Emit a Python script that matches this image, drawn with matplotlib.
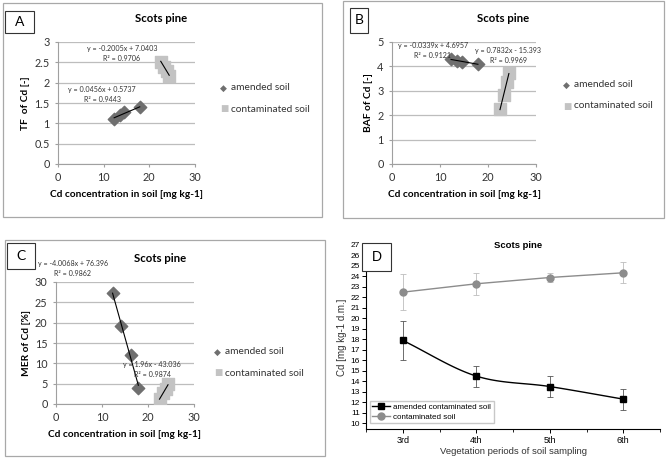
import matplotlib
matplotlib.use("Agg")
import matplotlib.pyplot as plt
import numpy as np
from matplotlib.patches import Rectangle

W, H = 666, 459

# soil Cd per vegetation period (panel D)
periods = ["3rd", "4th", "5th", "6th"]
cd_amended = [17.9, 14.5, 13.5, 12.3]
cd_amended_err = [1.85, 1.0, 1.0, 1.0]
cd_contam = [22.5, 23.3, 23.9, 24.35]
cd_contam_err = [1.7, 1.05, 0.4, 1.0]

# panel A: TF
tf_amended = [1.39, 1.28, 1.2, 1.11]
tf_contam = [2.52, 2.38, 2.28, 2.17]
# panel B: BAF
baf_amended = [4.09, 4.2, 4.24, 4.29]
baf_contam = [2.25, 2.83, 3.35, 3.72]
# panel C: MER (x read separately)
mer_x_amended = [17.9, 16.3, 14.2, 12.3]
mer_amended = [4.0, 12.1, 19.2, 27.2]
mer_contam = [1.3, 2.6, 3.7, 4.9]

eq_A = ["y = 0.0456x + 0.5737\nR² = 0.9443", "y = -0.2005x + 7.0403\nR² = 0.9706"]
eq_B = ["y = -0.0339x + 4.6957\nR² = 0.9121", "y = 0.7832x - 15.393\nR² = 0.9969"]
eq_C = ["y = -4.0068x + 76.396\nR² = 0.9862", "y = 1.96x - 43.036\nR² = 0.9874"]

C_AM = "#6f6f6f"
C_CO = "#c3c3c3"
FONT = "Lato"


def box(x0, y0, x1, y1):
    return [x0 / W, 1 - y1 / H, (x1 - x0) / W, (y1 - y0) / H]


def fxy(x, y):
    return x / W, 1 - y / H


fig = plt.figure(figsize=(W / 100, H / 100), dpi=100)
fig.patch.set_facecolor("white")


def frame(x0, y0, x1, y1):
    fig.patches.append(Rectangle(fxy(x0, y1), (x1 - x0) / W, (y1 - y0) / H,
                                 transform=fig.transFigure, fill=False,
                                 edgecolor="#a8a8a8", lw=0.9))


def letter(x0, y0, x1, y1, s, family=FONT):
    fig.patches.append(Rectangle(fxy(x0, y1), (x1 - x0) / W, (y1 - y0) / H,
                                 transform=fig.transFigure, facecolor="white",
                                 edgecolor="#333333", lw=0.8, zorder=5))
    cx, cy = fxy((x0 + x1) / 2, (y0 + y1) / 2)
    fig.text(cx, cy, s, ha="center", va="center", fontsize=10, family=family, zorder=6)


def scatter_panel(rect, xa, ya, xc, yc, ylim, yticks, ylabel, eqs, eqpos, legpos, title_pos):
    ax = fig.add_axes(rect)
    ax.set_xlim(0, 30)
    ax.set_ylim(*ylim)
    ax.set_xticks([0, 10, 20, 30])
    ax.set_yticks(yticks)
    ax.set_yticklabels([f"{v:g}" for v in yticks])
    ax.yaxis.grid(True, color="#bdbdbd", lw=0.9)
    ax.set_axisbelow(True)
    for s in ["top", "right"]:
        ax.spines[s].set_visible(False)
    for s in ["left", "bottom"]:
        ax.spines[s].set_color("#a0a0a0")
    ax.tick_params(colors="#a0a0a0", labelcolor="#333333", labelsize=7.8, length=2.5, width=0.8)
    for t in ax.get_xticklabels() + ax.get_yticklabels():
        t.set_family(FONT)
    ax.set_xlabel("Cd concentration in soil [mg kg-1]", fontsize=7.3, fontweight="bold",
                  family=FONT, labelpad=5)
    ax.set_ylabel(ylabel, fontsize=7.3, fontweight="bold", family=FONT, labelpad=3)
    ax.scatter(xc, yc, marker="s", s=80, color=C_CO, zorder=3)
    ax.scatter(xa, ya, marker="D", s=40, color=C_AM, zorder=3)
    for xs, ys in [(xa, ya), (xc, yc)]:
        k, b = np.polyfit(xs, ys, 1)
        xx = np.array([min(xs), max(xs)])
        ax.plot(xx, k * xx + b, color="black", lw=0.8, zorder=4)
    for s, (px, py) in zip(eqs, eqpos):
        x, y = fxy(px, py)
        fig.text(x, y, s, ha="center", va="top", fontsize=5.1, family=FONT,
                 color="#333333", linespacing=1.5, zorder=6)
    # legend
    lx, ly = legpos
    x, y = fxy(lx, ly)
    fig.text(x, y, "\u25c6", ha="left", va="center", fontsize=6.5, color=C_AM, family="DejaVu Sans")
    x2, _ = fxy(lx + 11, ly)
    fig.text(x2, y, "amended soil", ha="left", va="center", fontsize=7.3, family=FONT, color="#333333")
    x, y = fxy(lx, ly + 21)
    fig.text(x, y, "\u25a0", ha="left", va="center", fontsize=6.3, color=C_CO, family="DejaVu Sans")
    fig.text(x2, y, "contaminated soil", ha="left", va="center", fontsize=7.3, family=FONT, color="#333333")
    tx, ty = fxy(*title_pos)
    fig.text(tx, ty, "Scots pine", ha="center", va="center", fontsize=8.2, fontweight="bold", family=FONT)
    return ax


# panel A
frame(3, 3, 322, 217)
scatter_panel(box(58, 42, 195, 164), cd_amended, tf_amended, cd_contam, tf_contam,
              (0, 3), [0, 0.5, 1, 1.5, 2, 2.5, 3], "TF  of Cd [-]", eq_A,
              [(102, 86), (122, 45)], (220, 88), (161, 18))
letter(5, 11, 34, 33, "A")

# panel B
frame(343, 1, 664, 218)
scatter_panel(box(392, 42, 536, 164), cd_amended, baf_amended, cd_contam, baf_contam,
              (0, 5), [0, 1, 2, 3, 4, 5], "BAF of Cd [-]", eq_B,
              [(433, 42), (508, 47)], (563, 85), (503, 18))
letter(350, 8, 368, 33, "B")

# panel C
frame(5, 240, 325, 456)
scatter_panel(box(56, 282, 194, 404), mer_x_amended, mer_amended, cd_contam, mer_contam,
              (0, 30), [0, 5, 10, 15, 20, 25, 30], "MER of Cd [%]", eq_C,
              [(73, 260), (152, 361)], (214, 352), (160, 258))
letter(7, 243, 35, 269, "C")

# panel D
axd = fig.add_axes(box(366, 245, 660, 429))
xp = np.arange(3, 3 + len(periods))


def smooth(xs, ys, n=30):
    # Catmull-Rom through the points
    xs = np.asarray(xs, float)
    ys = np.asarray(ys, float)
    px = np.concatenate([[2 * xs[0] - xs[1]], xs, [2 * xs[-1] - xs[-2]]])
    py = np.concatenate([[2 * ys[0] - ys[1]], ys, [2 * ys[-1] - ys[-2]]])
    ox, oy = [], []
    for i in range(1, len(px) - 2):
        t = np.linspace(0, 1, n)
        for arr, out in [(px, ox), (py, oy)]:
            p0, p1, p2, p3 = arr[i - 1], arr[i], arr[i + 1], arr[i + 2]
            out.extend(0.5 * (2 * p1 + (-p0 + p2) * t + (2 * p0 - 5 * p1 + 4 * p2 - p3) * t ** 2
                              + (-p0 + 3 * p1 - 3 * p2 + p3) * t ** 3))
    return ox, oy


sx, sy = smooth(xp, cd_amended)
axd.plot(sx, sy, color="black", lw=1.0, zorder=3)
axd.errorbar(xp, cd_amended, yerr=cd_amended_err, fmt="none", ecolor="#555555",
             elinewidth=0.6, capsize=2.5, capthick=0.6, zorder=2)
axd.plot(xp, cd_amended, "s", color="black", ms=5, zorder=4)
axd.errorbar(xp, cd_contam, yerr=cd_contam_err, fmt="none", ecolor="#bdbdbd",
             elinewidth=0.6, capsize=2.5, capthick=0.6, zorder=2)
axd.plot(xp, cd_contam, "-", color="#8c8c8c", lw=1.0, zorder=3)
axd.plot(xp, cd_contam, "o", color="#8c8c8c", ms=5, zorder=4)
axd.plot([], [], "-s", color="black", ms=5, lw=1.0, label="amended contaminated soil")
axd.plot([], [], "-o", color="#8c8c8c", ms=5, lw=1.0, label="contaminated soil")

axd.set_xlim(2.5, 6.5)
axd.set_ylim(9.45, 27)
axd.set_xticks(xp)
axd.set_xticklabels(periods)
axd.set_xticks(np.arange(2.5, 6.6, 0.5), minor=True)
axd.set_yticks(np.arange(10, 28, 1))
for s in ["top", "right"]:
    axd.spines[s].set_visible(False)
for s in ["left", "bottom"]:
    axd.spines[s].set_linewidth(0.8)
axd.tick_params(labelsize=6, length=3, width=0.7, pad=1.5)
axd.tick_params(axis="x", labelsize=6.5, pad=2)
axd.tick_params(which="minor", length=2, width=0.6)
for t in axd.get_xticklabels() + axd.get_yticklabels():
    t.set_family("Liberation Sans")
axd.set_xlabel("Vegetation periods of soil sampling", fontsize=6.8, family="Liberation Sans",
               color="#333333", labelpad=1.5)
axd.set_ylabel("Cd [mg kg-1 d.m.]", fontsize=7, family="Liberation Sans", color="#333333", labelpad=2)
axd.legend(loc="lower left", bbox_to_anchor=(0.0, 0.01), prop={"family": "Liberation Sans", "size": 5.8},
           frameon=True, fancybox=False, edgecolor="#bbbbbb", borderpad=0.3, labelspacing=0.25,
           handlelength=2.2, handletextpad=0.4)
tx, ty = fxy(518, 246)
fig.text(tx, ty, "Scots pine", ha="center", va="center", fontsize=6.8, fontweight="bold",
         family="Liberation Sans")
letter(362, 243, 391, 271, "D", family="Liberation Sans")

fig.savefig("out.png", dpi=100, facecolor="white")
